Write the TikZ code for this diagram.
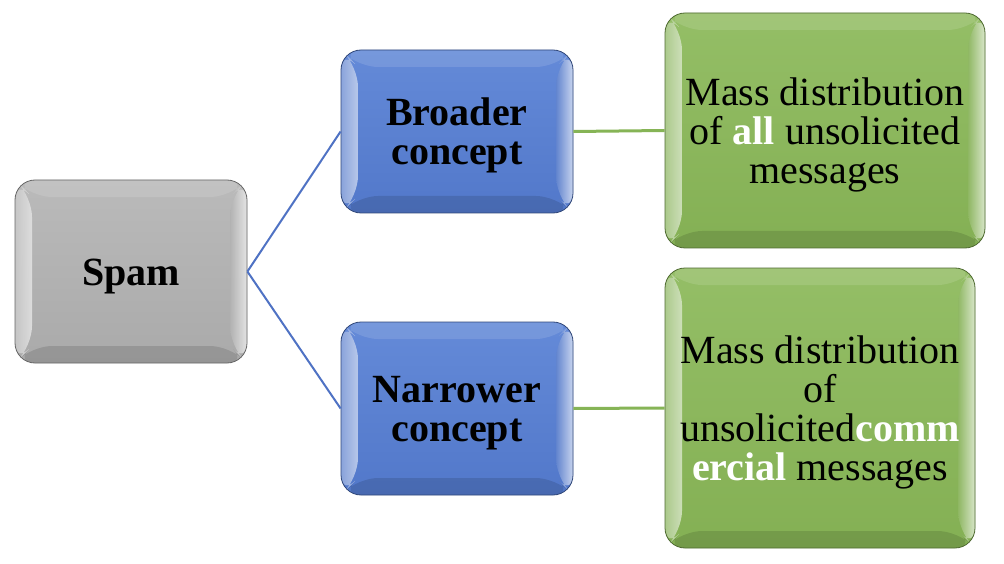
\documentclass[tikz,border=0pt]{standalone}
\usepackage{fontspec}
\setmainfont{Liberation Serif}
\usetikzlibrary{calc}
\definecolor{graybase}{RGB}{170,170,170}
\definecolor{graytop}{RGB}{186,186,186}
\definecolor{bluebase}{RGB}{82,120,202}
\definecolor{bluetop}{RGB}{100,138,216}
\definecolor{greenbase}{RGB}{132,176,84}
\definecolor{greentop}{RGB}{148,190,102}
\definecolor{bluelink}{RGB}{79,114,196}
\definecolor{greenlink}{RGB}{134,180,86}
\newcommand{\tallstrut}{\rule{0pt}{36pt}}
\tikzset{
  bevel/.style={path picture={
    \coordinate (pnw) at (path picture bounding box.north west);
    \coordinate (pne) at (path picture bounding box.north east);
    \coordinate (psw) at (path picture bounding box.south west);
    \coordinate (pse) at (path picture bounding box.south east);
    \fill[white,opacity=0.12] (pnw) -- (pne) -- ($(pne)+(-17pt,-17pt)$) -- ($(pnw)+(17pt,-17pt)$) -- cycle;
    \fill[black,opacity=0.12] (psw) -- (pse) -- ($(pse)+(-17pt,17pt)$) -- ($(psw)+(17pt,17pt)$) -- cycle;
    \shade[left color=white!35!#1,right color=white!65!#1,opacity=0.9] (pnw) -- ($(pnw)+(17pt,-17pt)$) -- ($(psw)+(17pt,17pt)$) -- (psw) -- cycle;
    \shade[left color=white!10!#1,right color=white!75!#1,opacity=0.9] (pne) -- ($(pne)+(-17pt,-17pt)$) -- ($(pse)+(-17pt,17pt)$) -- (pse) -- cycle;
  }},
  boxbase/.style={rounded corners=20pt, inner sep=0pt, align=center,
    font=\fontsize{40}{39}\selectfont, text=black},
  graybox/.style={boxbase, top color=graytop, bottom color=graybase,
    draw=graybase!60!black, line width=0.8pt, bevel=graybase},
  bluebox/.style={boxbase, top color=bluetop, bottom color=bluebase,
    draw=bluebase!60!black, line width=0.8pt, bevel=bluebase},
  greenbox/.style={boxbase, top color=greentop, bottom color=greenbase,
    draw=greenbase!60!black, line width=0.8pt, bevel=greenbase},
  bluelinkstyle/.style={draw=bluelink, line width=2pt},
  greenlinkstyle/.style={draw=greenlink, line width=3pt},
}
\begin{document}
\begin{tikzpicture}[x=1pt,y=-1pt]
\useasboundingbox (0,0) rectangle (1004,564);
\fill[white] (0,0) rectangle (1004,564);
\node[graybox, minimum width=232pt, minimum height=183pt] (spam) at (131,271.5) {\tallstrut\textbf{Spam}};
\node[bluebox, minimum width=232pt, minimum height=163pt] (broad) at (457,131.5) {\tallstrut\textbf{Broader}\\\textbf{concept}};
\node[bluebox, minimum width=232pt, minimum height=173pt] (narrow) at (457,408.5) {\tallstrut\textbf{Narrower}\\\textbf{concept}};
\node[greenbox, minimum width=320pt, minimum height=235pt] (all) at (825,130.5) {\tallstrut Mass distribution\\of \textcolor{white}{\textbf{all}} unsolicited\\messages};
\node[greenbox, minimum width=310pt, minimum height=280pt] (comm) at (820,408) {\tallstrut Mass distribution\\of\\unsolicited\textcolor{white}{\textbf{comm}}\\\textcolor{white}{\textbf{ercial}} messages};
\draw[bluelinkstyle] (spam.east) -- (broad.west);
\draw[bluelinkstyle] (spam.east) -- (narrow.west);
\draw[greenlinkstyle] (broad.east) -- (all.west);
\draw[greenlinkstyle] (narrow.east) -- (comm.west);
\end{tikzpicture}
\end{document}
